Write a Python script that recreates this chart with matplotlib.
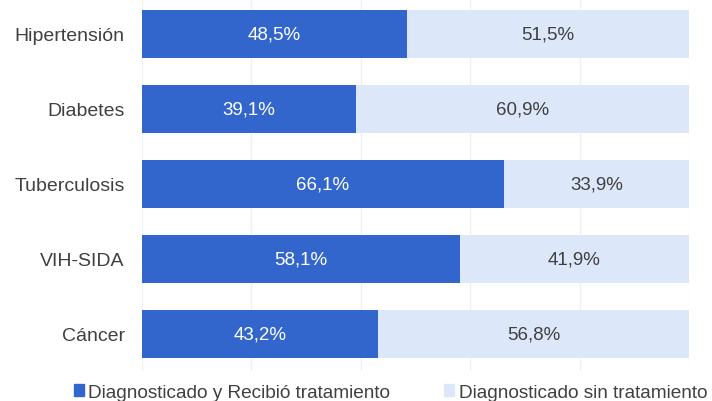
import matplotlib
matplotlib.use("Agg")
import matplotlib.pyplot as plt
from matplotlib.patches import Patch

categories = ["Hipertensión", "Diabetes", "Tuberculosis", "VIH-SIDA", "Cáncer"]
tratados = [48.5, 39.1, 66.1, 58.1, 43.2]
sin_trat = [51.5, 60.9, 33.9, 41.9, 56.8]
series_names = ["Diagnosticado y Recibió tratamiento", "Diagnosticado sin tratamiento"]

c_dark = "#3366CC"
c_light = "#DDE7FA"
c_text = "#404040"

plt.rcParams['font.family'] = ['Liberation Sans', 'DejaVu Sans']

fig = plt.figure(figsize=(7.12, 4.02), dpi=100)
ax = fig.add_axes([142/712, 30/402, 547/712, 372/402])

n = len(categories)
ypos = [n - 1 - i for i in range(n)]
h = 0.64
ax.barh(ypos, tratados, height=h, color=c_dark, zorder=2)
ax.barh(ypos, sin_trat, left=tratados, height=h, color=c_light, zorder=2)

def fmt(v):
    return f"{v:.1f}%".replace(".", ",")

for y, a, b in zip(ypos, tratados, sin_trat):
    ax.text(a / 2, y, fmt(a), ha="center", va="center", color="white", fontsize=13.5, zorder=3)
    ax.text(a + b / 2, y, fmt(b), ha="center", va="center", color=c_text, fontsize=13.5, zorder=3)

ax.set_xlim(0, 100)
ax.set_ylim(-0.494, -0.494 + 372/75)
ax.set_xticks([0, 20, 40, 60, 80, 100])
ax.set_xticklabels([])
ax.grid(axis="x", color="#F0F0F0", linewidth=1, zorder=0)
ax.set_yticks(ypos)
ax.set_yticklabels(categories, fontsize=14, color=c_text)
ax.tick_params(axis="both", length=0, pad=12.5)
for s in ax.spines.values():
    s.set_visible(False)

handles = [Patch(color=c_dark), Patch(color=c_light)]
fig.legend(handles, series_names, loc="lower left", bbox_to_anchor=(57/712, -17/402),
           ncol=2, frameon=False, fontsize=13.7, handlelength=0.52, handleheight=0.56,
           handletextpad=0.22, columnspacing=2.85, labelcolor=c_text)

fig.savefig("out.png", dpi=100)
